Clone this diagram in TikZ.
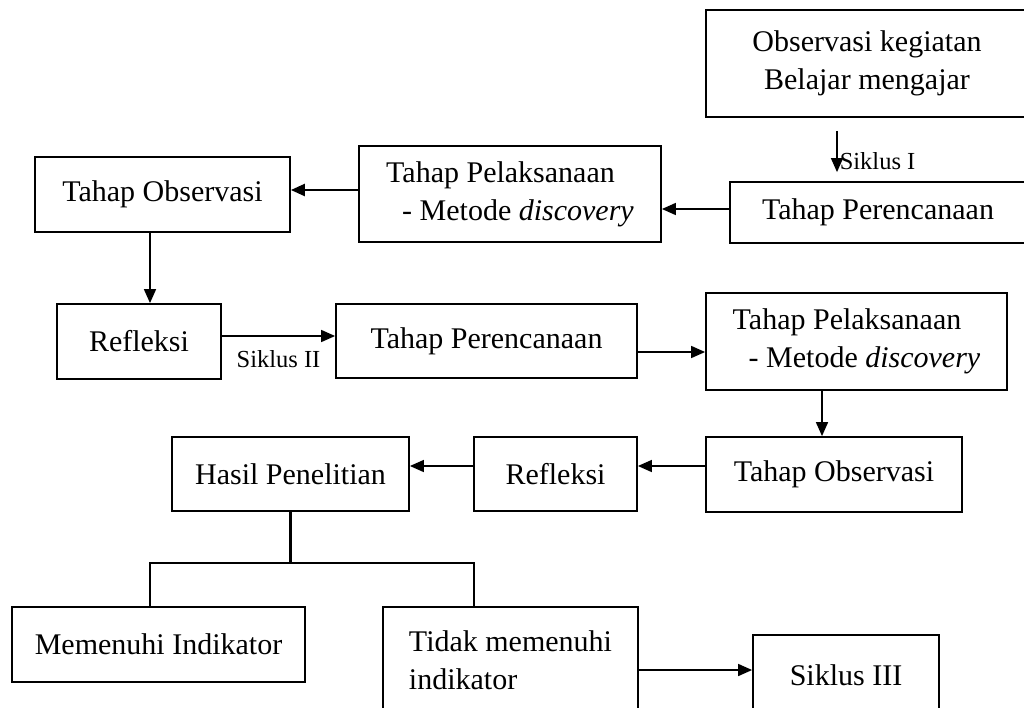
\documentclass[tikz,border=0pt]{standalone}
\usepackage{fontspec}
\setmainfont{Liberation Serif}
\usetikzlibrary{calc, positioning}
\usetikzlibrary{arrows.meta}

\begin{document}
\begin{tikzpicture}[x=1pt, y=-1pt,
  box/.style={draw, line width=1.8pt, inner sep=0pt, align=left, font=\fontsize{30}{38}\selectfont},
  flow/.style={-{Triangle[length=14pt, width=12pt]}, line width=1.6pt},
  cyc/.style={font=\fontsize{24.5}{28}\selectfont}]
\useasboundingbox (0,0) rectangle (1024,707);
\clip (0,0) rectangle (1024,707);

\node[box, align=center, minimum width=322pt, minimum height=107pt] (obsawal) at (867,63.5) {Observasi kegiatan\\Belajar mengajar};
\node[box, minimum width=296pt, minimum height=61pt] (perA) at (878,212.5) {Tahap Perencanaan};
\node[box, minimum width=302pt, minimum height=96pt] (pelA) at (510,194) {Tahap Pelaksanaan\\\hspace*{16pt}- Metode \textit{discovery}};
\node[box, minimum width=255pt, minimum height=75pt] (obsA) at (162.5,194.5) {Tahap Observasi};

\node[box, minimum width=164pt, minimum height=75pt] (refA) at (139,341.5) {Refleksi};
\node[box, minimum width=301pt, minimum height=74pt] (perB) at (486.5,341) {Tahap Perencanaan};
\node[box, minimum width=301pt, minimum height=97pt] (pelB) at (856.5,341.5) {Tahap Pelaksanaan\\\hspace*{16pt}- Metode \textit{discovery}};

\node[box, minimum width=256pt, minimum height=75pt] (obsB) at (834,474.5) {Tahap Observasi};
\node[box, minimum width=163pt, minimum height=74pt] (refB) at (555.5,474) {Refleksi};
\node[box, minimum width=237pt, minimum height=74pt] (hasil) at (290.5,474) {Hasil Penelitian};

\node[box, minimum width=293pt, minimum height=75pt] (penuh) at (158.5,644.5) {Memenuhi Indikator};
\node[box, minimum width=255pt, minimum height=106pt] (tidak) at (510.5,660) {Tidak memenuhi\\indikator};
\node[box, minimum width=186pt, minimum height=80pt] (siklusIII) at (846,675) {Siklus III};

\draw[flow, shorten <=13pt, shorten >=9pt] ([xshift=-30pt]obsawal.south) -- ([xshift=-30pt]obsawal.south |- perA.north)
  node[cyc, pos=0.69, right, inner sep=2pt] {Siklus I};
\draw[flow] ([yshift=3.5pt]perA.west) -- ([yshift=3.5pt]perA.west -| pelA.east);
\draw[flow, line width=2.4pt] ([yshift=4pt]pelA.west) -- ([yshift=4pt]pelA.west -| obsA.east);
\draw[flow] ([xshift=-12.5pt]obsA.south) -- ([xshift=-12.5pt]obsA.south |- refA.north);
\draw[flow] ([yshift=5.5pt]refA.east) -- ([yshift=5.5pt]refA.east -| perB.west)
  node[cyc, midway, below=10pt] {Siklus II};
\draw[flow] ([yshift=-11pt]perB.east) -- ([yshift=-11pt]perB.east -| pelB.west);
\draw[flow] ([xshift=-34.5pt]pelB.south) -- ([xshift=-34.5pt]pelB.south |- obsB.north);
\draw[flow] ([yshift=8.5pt]obsB.west) -- ([yshift=8.5pt]obsB.west -| refB.east);
\draw[flow] ([yshift=8pt]refB.west) -- ([yshift=8pt]refB.west -| hasil.east);

\coordinate (cabang) at ($(hasil.south)+(0,51)$);
\draw[line width=2.4pt] (hasil.south) -- (cabang);
\draw[line width=1.8pt] ([xshift=-8.5pt]penuh.north) |- (cabang) -| ([xshift=-36.5pt]tidak.north);
\draw[flow] ([yshift=-10pt]tidak.east) -- ([yshift=-10pt]tidak.east -| siklusIII.west);
\end{tikzpicture}
\end{document}
